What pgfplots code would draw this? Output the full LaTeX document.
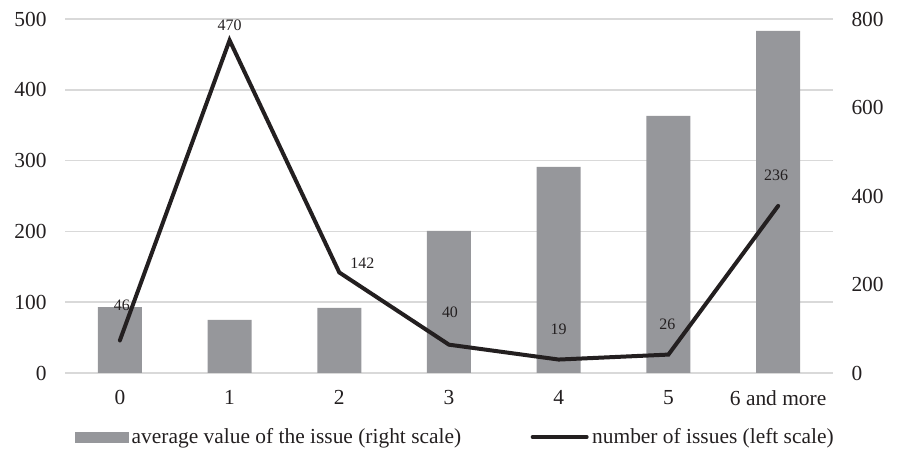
\documentclass[border=0pt]{standalone}
\usepackage{fontspec}
\setmainfont{Liberation Serif}
\usepackage{pgfplots}
\pgfplotsset{compat=1.18}
\usepackage{pgfplotstable}
\definecolor{barcol}{RGB}{150,151,155}
\definecolor{linecol}{RGB}{35,31,32}
\definecolor{gridcol}{RGB}{217,217,217}

\pgfplotstableread{
x y
0 149
1 120
2 147
3 321
4 466
5 581
6 773
}\bars

\pgfplotstableread{
x y dx dy
0 46 2 35
1 470 0 15
2 142 23 9
3 40 1 32
4 19 0 30
5 26 -1 30
6 236 -2 31
}\issues

\pgfplotsset{base/.style={
  scale only axis, width=768bp, height=354bp,
  xmin=-0.5, xmax=6.5,
  axis line style={draw=none},
  major tick length=0pt,
  tick label style={font=\fontsize{21.5}{24}\selectfont, text=linecol},
  /pgf/number format/assume math mode=true,
}}

\begin{document}
\begin{tikzpicture}
\begin{axis}[base, name=ax,
  ymin=0, ymax=800,
  axis y line*=right,
  xtick=\empty,
  ytick={0,200,400,600,800},
  yticklabel style={xshift=15bp},
  extra y ticks={0,160,320,480,640,800},
  extra y tick labels={},
  extra y tick style={grid=major},
  grid style={gridcol, line width=1.5bp},
]
\addplot[ybar, bar width=44bp, fill=barcol, draw=none] table[x=x, y=y] {\bars};
\end{axis}
\begin{axis}[base,
  ymin=0, ymax=500,
  axis y line*=left,
  ytick={0,100,200,300,400,500},
  yticklabel style={xshift=-15bp},
  xtick={0,1,2,3,4,5,6},
  xticklabels={0,1,2,3,4,5,6 and more},
  xticklabel style={yshift=-14bp},
  legend columns=2,
  legend style={at={(0.5,0)}, anchor=center, yshift=-64bp, xshift=7bp,
    draw=none, fill=none, font=\fontsize{21.5}{24}\selectfont, text=linecol,
    nodes={inner sep=3.5bp},
    /tikz/every even column/.append style={column sep=66bp}},
]
\addlegendimage{legend image code/.code={\fill[barcol] (0bp,-5bp) rectangle (53bp,5bp);}}
\addlegendentry{average value of the issue (right scale)}
\addplot[linecol, line width=4bp, line cap=round, mark=none,
  legend image code/.code={\draw[linecol, line width=4bp] (0bp,0bp) -- (54bp,0bp);},
  nodes near coords, point meta=explicit symbolic,
  visualization depends on={\thisrow{dx} \as \dx},
  visualization depends on={\thisrow{dy} \as \dy},
  nodes near coords style={anchor=center, xshift=\dx bp, yshift=\dy bp,
    font=\fontsize{16}{18}\selectfont, text=linecol}]
  table[x=x, y=y, meta=y] {\issues};
\addlegendentry{number of issues (left scale)}
\end{axis}
\pgfresetboundingbox
\path[use as bounding box] (ax.south west) ++(-65bp,-78bp) rectangle ++(899bp,451bp);
\end{tikzpicture}
\end{document}
